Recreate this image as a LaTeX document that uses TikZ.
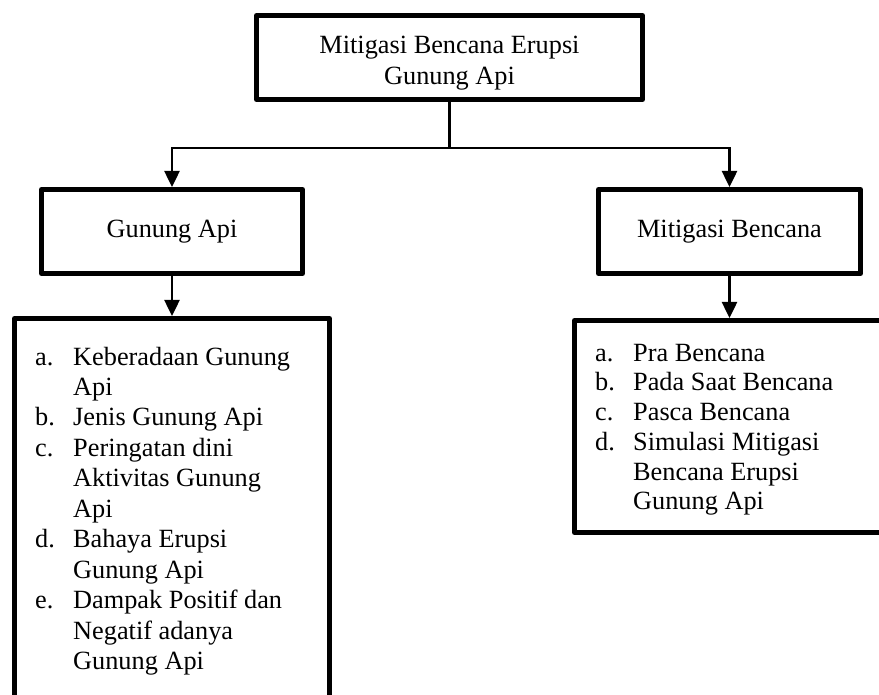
\documentclass[tikz,border=0pt]{standalone}
\usepackage{fontspec}
\setmainfont{Liberation Serif}
\usetikzlibrary{arrows.meta}
\begin{document}
\begin{tikzpicture}[x=1pt,y=-1pt,
  box/.style={draw, line width=5pt, line join=round, inner sep=0pt, align=center,
              font=\fontsize{26.3}{31.5}\selectfont},
  conn/.style={line width=2.5pt},
  arr/.style={conn, -{Triangle[length=16pt,width=15pt]}},
  listtext/.style={anchor=base west, inner sep=0pt}]
\useasboundingbox (0,0) rectangle (879,695);
\clip (0,0) rectangle (879,695);
\fill[white] (0,0) rectangle (879,695);
\node[box, minimum width=386pt, minimum height=84pt] (T) at (449.5,57.5) {\rule{0pt}{29pt}Mitigasi Bencana Erupsi\\Gunung Api};
\node[box, minimum width=261pt, minimum height=84pt] (G) at (172,231.5) {Gunung Api};
\node[box, minimum width=262pt, minimum height=84pt] (M) at (729.5,231.5) {Mitigasi Bencana};
\node[box, minimum width=315pt, minimum height=420pt, anchor=north] (L) at (172,316) {};
\node[box, minimum width=310pt, minimum height=212pt, anchor=north] (R) at (729.5,318) {};
\coordinate (J) at (449.5,148);
\draw[conn] (T.south) -- (J);
\draw[arr] (J) -| (G.north);
\draw[arr] (J) -| (M.north);
\draw[arr] (G.south) -- (L.north);
\draw[arr] (M.south) -- (R.north);
\node[listtext, font=\fontsize{26.3}{30.5}\selectfont] (Lt) at (35,365) {\begin{tabular}[t]{@{}p{38pt}@{}l@{}}
a.&Keberadaan Gunung\\&Api\\b.&Jenis Gunung Api\\c.&Peringatan dini\\&Aktivitas Gunung\\&Api\\
d.&Bahaya Erupsi\\&Gunung Api\\e.&Dampak Positif dan\\&Negatif adanya\\&Gunung Api\end{tabular}};
\node[listtext, font=\fontsize{26.3}{29.8}\selectfont] (Rt) at (595,361) {\begin{tabular}[t]{@{}p{38pt}@{}l@{}}
a.&Pra Bencana\\b.&Pada Saat Bencana\\c.&Pasca Bencana\\d.&Simulasi Mitigasi\\&Bencana Erupsi\\&Gunung Api\end{tabular}};
\end{tikzpicture}
\end{document}
